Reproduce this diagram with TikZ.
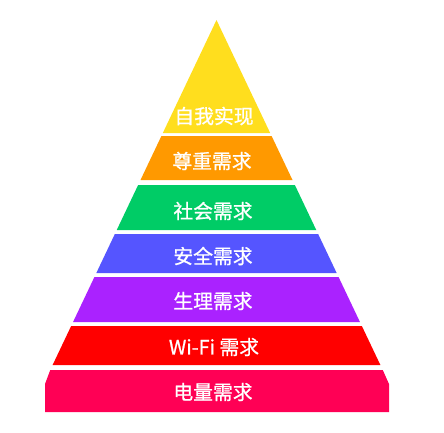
\documentclass[tikz,border=0pt]{standalone}
\usepackage{fontspec}
\newfontfamily\cjk[FakeBold=0.9]{Noto Sans CJK SC}
\definecolor{cYellow}{RGB}{255,222,30}
\definecolor{cOrange}{RGB}{255,153,0}
\definecolor{cGreen}{RGB}{0,204,102}
\definecolor{cBlue}{RGB}{85,85,255}
\definecolor{cPurple}{RGB}{170,34,255}
\definecolor{cRed}{RGB}{255,0,0}
\definecolor{cCrimson}{RGB}{255,0,85}
\newcommand{\pyrband}[3]{%
  \fill[#3] ({216.5-0.475*(#1-20)},#1) -- ({216.5+0.475*(#1-20)},#1)
    -- ({216.5+0.475*(#2-20)},#2) -- ({216.5-0.475*(#2-20)},#2) -- cycle;}
\tikzset{lbl/.style={text=white, font=\cjk\fontsize{19.8}{20}\selectfont, inner sep=0pt, anchor=center}}
\begin{document}
\begin{tikzpicture}[x=1pt,y=-1pt]
\useasboundingbox (0,0) rectangle (444,432);
\fill[cYellow] (216.5,20) -- ({216.5+0.475*113},133) -- ({216.5-0.475*113},133) -- cycle;
\pyrband{136}{180}{cOrange}
\pyrband{185}{230}{cGreen}
\pyrband{234}{273}{cBlue}
\pyrband{277}{322}{cPurple}
\pyrband{326}{365}{cRed}
\fill[cCrimson] ({216.5-0.475*350},370) -- ({216.5+0.475*350},370)
  -- (389,384) -- (389,412) -- (45,412) -- (45,384) -- cycle;
\node[lbl] (t1) at (214,116) {自我实现};
\node[lbl] (t2) at (212,161) {尊重需求};
\node[lbl] (t3) at (213,211) {社会需求};
\node[lbl] (t4) at (213,256) {安全需求};
\node[lbl] (t5) at (213,301) {生理需求};
\node[lbl] (t6) at (214,347) {Wi-Fi 需求};
\node[lbl] (t7) at (213,392) {电量需求};
\end{tikzpicture}
\end{document}
